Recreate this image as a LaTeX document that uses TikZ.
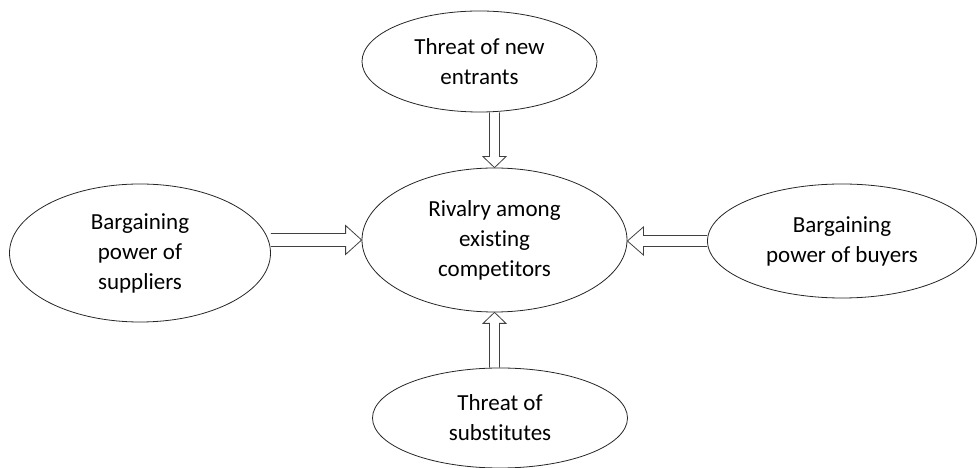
\documentclass[tikz,border=0pt]{standalone}
\usepackage{fontspec}
\setmainfont{Carlito}[Ligatures={NoCommon}]
\usepackage{tikz}
\usetikzlibrary{shapes.geometric, calc}

\tikzset{
  force/.style={ellipse, draw=black!85, line width=0.8pt, inner sep=0pt, align=center,
                font=\fontsize{23}{30}\selectfont},
  blockline/.style={draw=black!75, line width=0.8pt, line join=miter}
}

% hollow block arrow: from, to, shaft half width, head half width, head length
\newcommand{\blockarrow}[5]{%
  \coordinate (bh) at ($(#2)!#5!(#1)$);
  \draw[blockline] ($(#1)!#3!90:(#2)$) -- ($(bh)!#3!90:(#2)$) -- ($(bh)!#4!90:(#2)$)
        -- (#2) -- ($(bh)!#4!-90:(#2)$) -- ($(bh)!#3!-90:(#2)$) -- ($(#1)!#3!-90:(#2)$);
}

\begin{document}
\begin{tikzpicture}[x=1pt, y=1pt]
    \useasboundingbox (0,0) rectangle (977,468);

    % --- FORCES ---
    \node[force, minimum width=265pt, minimum height=144pt] (rival) at (494.5,228) {Rivalry among\\existing\\competitors};
    \node[force, minimum width=235pt, minimum height=101pt] (entrants) at (479.5,406.5) {Threat of new\\entrants};
    \node[force, minimum width=261pt, minimum height=138pt] (suppliers) at (140,215) {Bargaining\\power of\\suppliers};
    \node[force, minimum width=269pt, minimum height=114pt] (buyers) at (842,227) {Bargaining\\power of buyers};
    \node[force, minimum width=255pt, minimum height=100pt] (substitutes) at (500,50) {Threat of\\substitutes};

    % --- ARROWS ---
    \coordinate (entrants-a) at (entrants.south -| rival.north);
    \blockarrow{entrants-a}{rival.north}{5pt}{11.5pt}{11pt}

    \coordinate (substitutes-a) at (substitutes.north -| rival.south);
    \blockarrow{substitutes-a}{rival.south}{5pt}{11.5pt}{11pt}

    \coordinate (suppliers-a) at (suppliers.east |- rival.west);
    \blockarrow{suppliers-a}{rival.west}{6.5pt}{14.5pt}{16pt}

    \coordinate (buyers-a) at (rival.east |- buyers.west);
    \blockarrow{buyers.west}{buyers-a}{5.5pt}{14pt}{16pt}

\end{tikzpicture}
\end{document}
